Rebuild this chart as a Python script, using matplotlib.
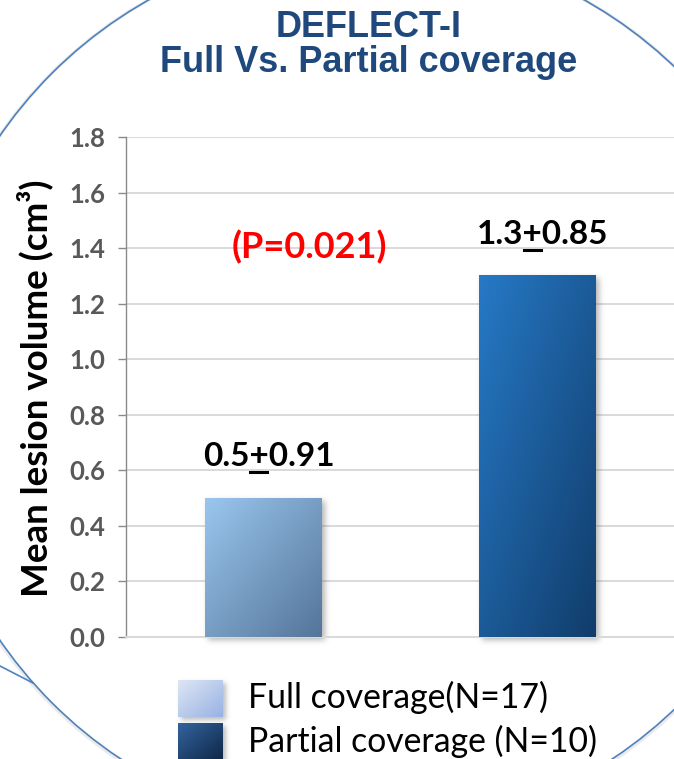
import numpy as np
import matplotlib
matplotlib.use("Agg")
import matplotlib.pyplot as plt
from matplotlib.patches import Circle
from matplotlib.lines import Line2D

# ---- data ----
groups = ["Full coverage", "Partial coverage"]
group_n = [17, 10]
mean_volume = [0.5, 1.3]
sd_volume = [0.91, 0.85]
p_value = "0.021"
y_ticks = [0.0, 0.2, 0.4, 0.6, 0.8, 1.0, 1.2, 1.4, 1.6, 1.8]

title_lines = ["DEFLECT-I", "Full Vs. Partial coverage"]
y_label = "Mean lesion volume (cm³)"
legend_labels = [f"{groups[0]}(N={group_n[0]})", f"{groups[1]} (N={group_n[1]})"]

# ---- styling ----
bar_grad = [("#9ac6ee", "#55759a"), ("#2679c6", "#113d6b")]
legend_grad = [("#dde6f4", "#98b2e4"), ("#33649e", "#0f2748")]
TITLE_BLUE = "#1F497D"
RING_BLUE = "#4f81bd"
SANS = ["Lato", "DejaVu Sans"]
W, H = 674, 759

fig = plt.figure(figsize=(W / 100, H / 100), dpi=100)
fig.patch.set_facecolor("white")

# full-figure pixel canvas for decoration, titles and legend
ov = fig.add_axes([0, 0, 1, 1], zorder=0)
ov.set_xlim(0, W)
ov.set_ylim(H, 0)
ov.axis("off")

ax = fig.add_axes([126 / W, 122 / H, 548 / W, 500 / H], zorder=1)
ax.set_facecolor("none")
ax.set_xlim(-0.5, 1.5)
ax.set_ylim(0, 1.8)


def hex2rgb(h):
    h = h.lstrip("#")
    return np.array([int(h[i:i + 2], 16) / 255 for i in (0, 2, 4)])


def gradient(c0, c1, nx=60, ny=60):
    xx, yy = np.meshgrid(np.linspace(0, 1, nx), np.linspace(0, 1, ny))
    t = (xx + yy) / 2
    a, b = hex2rgb(c0), hex2rgb(c1)
    return a[None, None, :] * (1 - t[..., None]) + b[None, None, :] * t[..., None]


def soft_shadow(wpx, hpx, pad=14, dx=3, dy=3, sigma=3.0, alpha=0.45):
    arr = np.zeros((hpx + 2 * pad, wpx + 2 * pad))
    arr[pad + dy:pad + dy + hpx, pad + dx:pad + dx + wpx] = 1.0
    r = int(3 * sigma)
    k = np.exp(-0.5 * (np.arange(-r, r + 1) / sigma) ** 2)
    k /= k.sum()
    arr = np.apply_along_axis(lambda m: np.convolve(m, k, mode="same"), 0, arr)
    arr = np.apply_along_axis(lambda m: np.convolve(m, k, mode="same"), 1, arr)
    rgba = np.zeros(arr.shape + (4,))
    rgba[..., :3] = 0.35
    rgba[..., 3] = arr * alpha
    return rgba


# ---- ring decoration ----
ov.add_patch(Circle((366.5, 389), 446, fill=False, ec="#b0b0b0", lw=2.4, alpha=0.25))
ov.add_patch(Circle((366.5, 388), 445, fill=False, ec=RING_BLUE, lw=1.2))
ov.add_line(Line2D([0, 33], [666, 683], color=RING_BLUE, lw=1.2))

# ---- axes styling ----
ax.set_yticks(y_ticks)
ax.set_yticklabels([f"{v:.1f}" for v in y_ticks])
ax.set_xticks([])
ax.yaxis.grid(True, color="#d9d9d9", lw=1.4)
ax.set_axisbelow(True)
for s in ("top", "right"):
    ax.spines[s].set_visible(False)
ax.spines["left"].set_color("#8a8a8a")
ax.spines["left"].set_linewidth(1.0)
ax.spines["bottom"].set_color("#d9d9d9")
ax.spines["bottom"].set_linewidth(1.4)
ax.tick_params(axis="y", direction="out", length=6, width=1.0, color="#8a8a8a",
               pad=9, labelsize=18.5, labelcolor="#595959")
for lbl in ax.get_yticklabels():
    lbl.set_fontweight("bold")
    lbl.set_family(SANS)

# ---- bars with diagonal gradient and soft shadow ----
bar_w = 0.426
px_x = ax.transData.transform((1, 0))[0] - ax.transData.transform((0, 0))[0]
px_y = ax.transData.transform((0, 1))[1] - ax.transData.transform((0, 0))[1]
pad = 14
for i, (v, (c0, c1)) in enumerate(zip(mean_volume, bar_grad)):
    x0, x1 = i - bar_w / 2, i + bar_w / 2
    wpx, hpx = int(round(bar_w * px_x)), int(round(v * px_y))
    sh = soft_shadow(wpx, hpx, pad=pad)
    ax.imshow(sh, extent=(x0 - pad / px_x, x1 + pad / px_x, -pad / px_y, v + pad / px_y),
              aspect="auto", zorder=2, clip_on=False, interpolation="bilinear")
    ax.imshow(gradient(c0, c1), extent=(x0, x1, 0, v), aspect="auto", zorder=3,
              interpolation="bilinear")
ax.set_xlim(-0.5, 1.5)
ax.set_ylim(0, 1.8)

# ---- value labels (mean ± sd, with underlined plus) ----
fig.canvas.draw()
renderer = fig.canvas.get_renderer()
label_kw = dict(fontsize=24, fontweight="bold", family=SANS, color="black")
for i, (m, s) in enumerate(zip(mean_volume, sd_volume)):
    head, tail = f"{m}", f"{s}"
    txt = f"{head}+{tail}"
    t = ax.annotate(txt, (i + 0.02, m), xytext=(0, 23), textcoords="offset points",
                    ha="center", va="baseline", zorder=5, **label_kw)
    bb = t.get_window_extent(renderer)
    w_head = ax.text(0, 0, head, **label_kw).get_window_extent(renderer).width
    w_plus = ax.text(0, 0, head + "+", **label_kw).get_window_extent(renderer).width
    for extra in ax.texts[-2:]:
        extra.remove()
    base_y = ax.transData.transform((0, m))[1] + 23 * fig.dpi / 72
    x_a, x_b = bb.x0 + w_head + 1, bb.x0 + w_plus - 1
    inv = fig.transFigure.inverted()
    (fa, fy), (fb, _) = inv.transform([(x_a, base_y - 6), (x_b, base_y - 6)])
    fig.add_artist(Line2D([fa, fb], [fy, fy], color="black", lw=2.2,
                          transform=fig.transFigure, zorder=6))

ax.text(0.17, 1.364, f"(P={p_value})", ha="center", va="baseline", fontsize=26,
        fontweight="bold", family=SANS, color="#ff0000", zorder=5)

# ---- y label and title ----
ov.text(47, 388, y_label, rotation=90, rotation_mode="anchor", ha="center",
        va="baseline", fontsize=26.5, fontweight="bold", family=SANS, color="black")
ov.text(369, 37, title_lines[0], ha="center", va="baseline", fontsize=26,
        fontweight="bold", family=["Liberation Sans", "DejaVu Sans"], color=TITLE_BLUE)
ov.text(369, 72, title_lines[1], ha="center", va="baseline", fontsize=26,
        fontweight="bold", family=["Liberation Sans", "DejaVu Sans"], color=TITLE_BLUE)

# ---- legend ----
sq = [(178, 223, 680, 717), (178, 223, 723, 760)]
base = [708, 752]
for (x0, x1, y0, y1), (c0, c1), lab, by in zip(sq, legend_grad, legend_labels, base):
    sh = soft_shadow(x1 - x0, y1 - y0, pad=10, dx=3, dy=3, sigma=2.5, alpha=0.4)
    ov.imshow(sh, extent=(x0 - 10, x1 + 10, y1 + 10, y0 - 10), origin="upper",
              aspect="auto", zorder=2, interpolation="bilinear")
    ov.imshow(gradient(c0, c1), extent=(x0, x1, y1, y0), origin="upper",
              aspect="auto", zorder=3, interpolation="bilinear")
    ov.text(248, by, lab, ha="left", va="baseline", fontsize=24.3, family=SANS,
            color="black", zorder=4)
ov.set_xlim(0, W)
ov.set_ylim(H, 0)

fig.savefig("out.png", dpi=100, facecolor="white")
